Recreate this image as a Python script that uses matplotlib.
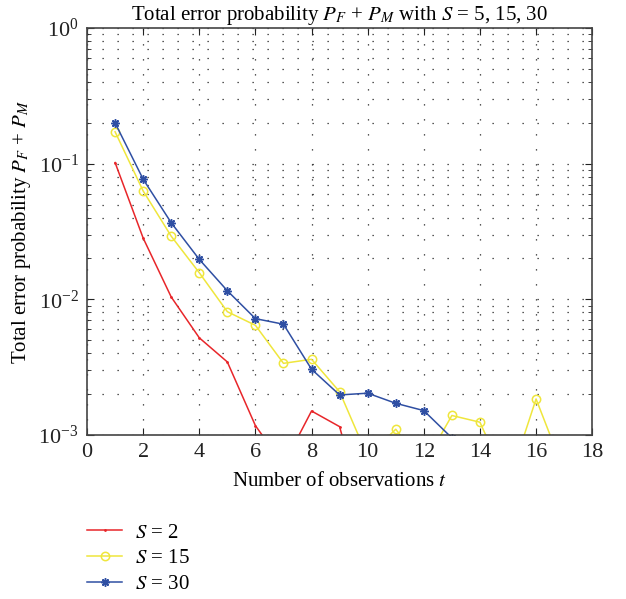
import matplotlib
matplotlib.use("Agg")
import matplotlib.pyplot as plt
from matplotlib.ticker import LogLocator, NullFormatter, MultipleLocator

plt.rcParams['font.family'] = ['Liberation Serif', 'DejaVu Serif']
plt.rcParams['mathtext.fontset'] = 'stix'

# number of observations
t = [1, 2, 3, 4, 5, 6, 7, 8, 9, 10, 11, 12, 13, 14, 15, 16, 17]

# total error probability P_F + P_M
err_s2 = [0.102, 0.0283, 0.0104, 0.0052, 0.00345, 0.00117, 0.0006, 0.0015,
          0.00115, 0.0002, 0.00015, 0.0001, 0.0001, 0.00008, 0.00008, 0.00006, 0.00006]
err_s15 = [0.172, 0.063, 0.0292, 0.0157, 0.0081, 0.00643, 0.00337, 0.00361,
           0.00208, 0.00069, 0.0011, 0.0006, 0.00139, 0.00124, 0.00043, 0.00184, 0.00054]
err_s30 = [0.2, 0.0769, 0.0367, 0.0197, 0.01156, 0.0072, 0.00655, 0.00305,
           0.00197, 0.00203, 0.00171, 0.00151, 0.00095, 0.0007, 0.0005, 0.0004, 0.0003]

labels = ['$S$ = 2', '$S$ = 15', '$S$ = 30']


def main():
  fig = plt.figure(figsize=(6.26, 5.99), dpi=100)
  ax = fig.add_axes([0.139, 0.274, 0.807, 0.679])

  l1, = ax.plot(t, err_s2, color='#e8262a', lw=1.1, marker='.', ms=2)
  l2, = ax.plot(t, err_s15, color='#efe63c', lw=1.1, marker='o', ms=6,
                mfc='none', mew=1.1)
  l3, = ax.plot(t, err_s30, color='#2f4fa3', lw=1.1, marker=(8, 2, 0), ms=6,
                mew=1.1)

  ax.set_yscale('log')
  ax.set_xlim(0, 18)
  ax.set_ylim(1e-3, 1)
  ax.xaxis.set_major_locator(MultipleLocator(2))
  ax.yaxis.set_major_locator(LogLocator(base=10, numticks=10))
  ax.yaxis.set_minor_locator(LogLocator(base=10, subs=range(2, 10), numticks=10))
  ax.yaxis.set_minor_formatter(NullFormatter())

  dots = (0, (1, 11))
  ax.grid(True, which='major', color='#222222', lw=0.9, ls=dots)
  ax.grid(True, which='minor', axis='y', color='#222222', lw=0.9, ls=dots)

  ax.tick_params(which='both', direction='in', top=True, right=True,
                 labelsize=16, colors='#222222')
  ax.tick_params(which='major', length=5, pad=6)
  ax.tick_params(which='minor', length=3)
  for sp in ax.spines.values():
    sp.set_linewidth(1.2)
    sp.set_color('#444444')

  ax.set_title('Total error probability $P_F$ + $P_M$ with $S$ = 5, 15, 30',
               fontsize=15, pad=6)
  ax.set_xlabel('Number of observations $t$', fontsize=15, labelpad=7)
  ax.set_ylabel('Total error probability $P_F$ + $P_M$', fontsize=15, labelpad=4)

  fig.legend([l1, l2, l3], labels, loc='upper left',
             bbox_to_anchor=(0.139, 0.127), frameon=False, fontsize=15,
             borderpad=0, borderaxespad=0,
             handlelength=1.7, handletextpad=0.6, labelspacing=0.3)

  plt.savefig('out.png', dpi=100)


if __name__ == '__main__':
  main()
